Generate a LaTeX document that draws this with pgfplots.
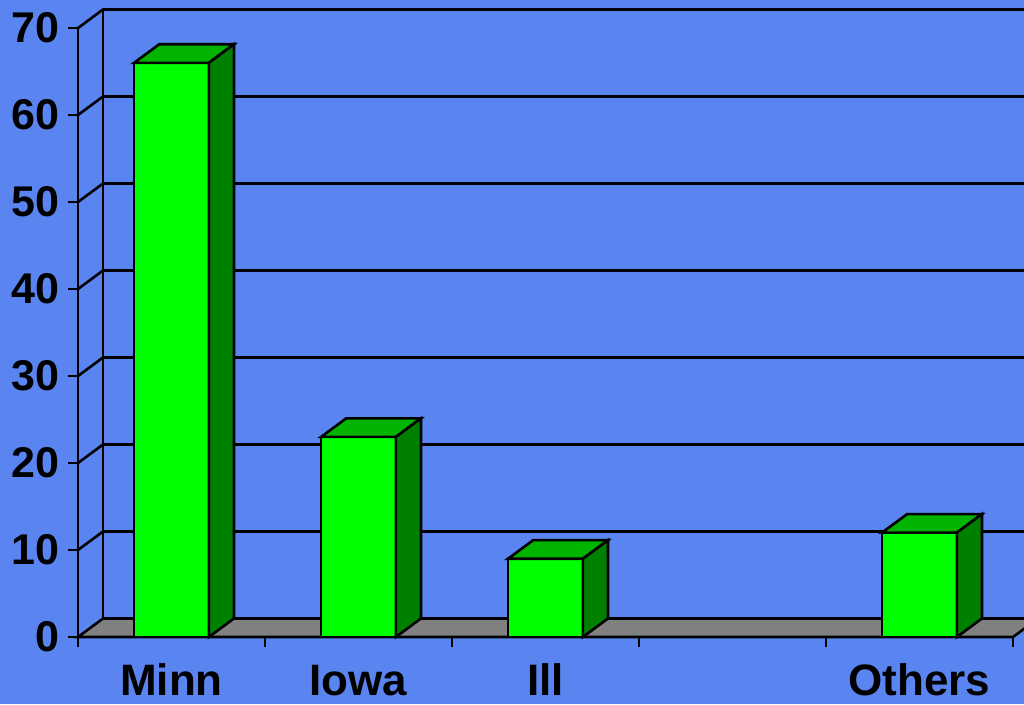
\documentclass[border=0pt]{standalone}
\usepackage{pgfplots}
\pgfplotsset{compat=1.18}
\usepackage{fontspec}
\setmainfont{Liberation Sans}
\usetikzlibrary{backgrounds}
\definecolor{bgblue}{RGB}{90,132,240}
\definecolor{barfront}{RGB}{0,255,0}
\definecolor{bartop}{RGB}{0,180,0}
\definecolor{barside}{RGB}{0,128,0}
\definecolor{floorgray}{RGB}{128,128,128}
\begin{document}
\begin{tikzpicture}
\begin{axis}[
  scale only axis,
  width=473pt, height=318.5pt,
  xmin=0, xmax=5.0588, ymin=0, ymax=73.22,
  clip=false,
  axis lines=left,
  axis line style={draw=none},
  tick align=outside,
  major tick length=5pt,
  every tick/.style={black, line width=1.3pt},
  ytick={0,10,20,30,40,50,60,70},
  xtick={0,1,2,3,4,5},
  xticklabels={},
  extra x ticks={0.5,1.5,2.5,4.5},
  extra x tick labels={Minn,Iowa,Ill,Others},
  extra x tick style={major tick length=0pt, xticklabel style={anchor=base, inner sep=0pt, yshift=-29pt, font=\bfseries\fontsize{22}{22}\selectfont}},
  /pgf/number format/assume math mode=true,
  ticklabel style={font=\bfseries\fontsize{21.5}{22}\selectfont, text=black},
  yticklabel style={xshift=-1pt},
  every axis plot/.append style={line width=1.3pt, line join=miter, draw=black},
]
% back wall and left wall gridlines
\addplot[draw=black] coordinates {(0,10) (0.134,12.13) (5.0588,12.13)};
\addplot[draw=black] coordinates {(0,20) (0.134,22.13) (5.0588,22.13)};
\addplot[draw=black] coordinates {(0,30) (0.134,32.13) (5.0588,32.13)};
\addplot[draw=black] coordinates {(0,40) (0.134,42.13) (5.0588,42.13)};
\addplot[draw=black] coordinates {(0,50) (0.134,52.13) (5.0588,52.13)};
\addplot[draw=black] coordinates {(0,60) (0.134,62.13) (5.0588,62.13)};
\addplot[draw=black] coordinates {(0,70) (0.134,72.13) (5.0588,72.13)};
\addplot[draw=black] coordinates {(0.134,2.13) (0.134,72.13)};
\addplot[draw=black] coordinates {(0,0) (0,70)};
% floor
\addplot[fill=floorgray, draw=black] coordinates {(0,0) (5,0) (5.134,2.13) (0.134,2.13)} -- cycle;
% Minn = 66
\addplot[fill=barfront] coordinates {(0.3,0) (0.7,0) (0.7,66) (0.3,66)} -- cycle;
\addplot[fill=bartop] coordinates {(0.3,66) (0.7,66) (0.834,68.13) (0.434,68.13)} -- cycle;
\addplot[fill=barside] coordinates {(0.7,0) (0.834,2.13) (0.834,68.13) (0.7,66)} -- cycle;
% Iowa = 23
\addplot[fill=barfront] coordinates {(1.3,0) (1.7,0) (1.7,23) (1.3,23)} -- cycle;
\addplot[fill=bartop] coordinates {(1.3,23) (1.7,23) (1.834,25.13) (1.434,25.13)} -- cycle;
\addplot[fill=barside] coordinates {(1.7,0) (1.834,2.13) (1.834,25.13) (1.7,23)} -- cycle;
% Ill = 9
\addplot[fill=barfront] coordinates {(2.3,0) (2.7,0) (2.7,9) (2.3,9)} -- cycle;
\addplot[fill=bartop] coordinates {(2.3,9) (2.7,9) (2.834,11.13) (2.434,11.13)} -- cycle;
\addplot[fill=barside] coordinates {(2.7,0) (2.834,2.13) (2.834,11.13) (2.7,9)} -- cycle;
% Others = 12
\addplot[fill=barfront] coordinates {(4.3,0) (4.7,0) (4.7,12) (4.3,12)} -- cycle;
\addplot[fill=bartop] coordinates {(4.3,12) (4.7,12) (4.834,14.13) (4.434,14.13)} -- cycle;
\addplot[fill=barside] coordinates {(4.7,0) (4.834,2.13) (4.834,14.13) (4.7,12)} -- cycle;
\coordinate (BL) at (axis cs:-0.4171,-7.701);
\coordinate (TR) at (axis cs:5.0588,73.22);
\end{axis}
\begin{pgfonlayer}{background}
\fill[bgblue] (BL) rectangle (TR);
\end{pgfonlayer}
\pgfresetboundingbox
\useasboundingbox (BL) rectangle (TR);
\end{tikzpicture}
\end{document}
